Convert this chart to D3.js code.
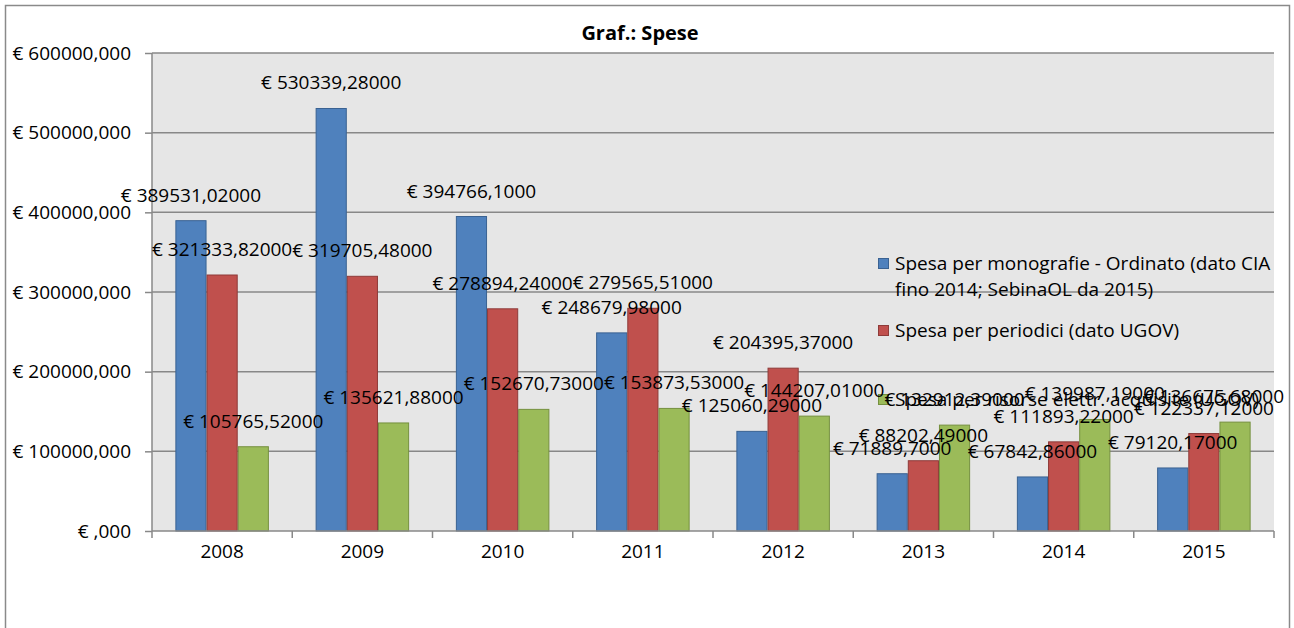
<!DOCTYPE html>
<html>
<head>
<meta charset="utf-8">
<script src="https://cdn.jsdelivr.net/npm/d3@7"></script>
<style>
  body { margin: 0; background: #fff; }
  svg text { font-family: "Open Sans", "Liberation Sans", sans-serif; fill: #000; }
</style>
</head>
<body>
<div id="chart"></div>
<script>
var years = ['2008', '2009', '2010', '2011', '2012', '2013', '2014', '2015'];
var seriesNames = [
  'Spesa per monografie - Ordinato (dato CIA fino 2014; SebinaOL da 2015)',
  'Spesa per periodici (dato UGOV)',
  'Spesa per risorse elettr. acquisite (UGOV)'
];
var monografie = [389531.02, 530339.28, 394766.10, 248679.98, 125060.29, 71889.70, 67842.86, 79120.17];
var periodici = [321333.82, 319705.48, 278894.24, 279565.51, 204395.37, 88202.49, 111893.22, 122337.12];
var risorse = [105765.52, 135621.88, 152670.73, 153873.53, 144207.01, 132912.39, 139987.19, 136675.68];

var monografieLabels = ['€ 389531,02000', '€ 530339,28000', '€ 394766,1000', '€ 248679,98000',
  '€ 125060,29000', '€ 71889,7000', '€ 67842,86000', '€ 79120,17000'];
var periodiciLabels = ['€ 321333,82000', '€ 319705,48000', '€ 278894,24000', '€ 279565,51000',
  '€ 204395,37000', '€ 88202,49000', '€ 111893,22000', '€ 122337,12000'];
var risorseLabels = ['€ 105765,52000', '€ 135621,88000', '€ 152670,73000', '€ 153873,53000',
  '€ 144207,01000', '€ 132912,39000', '€ 139987,19000', '€ 136675,68000'];

var yTicks = [0, 100000, 200000, 300000, 400000, 500000, 600000];
var yTickLabels = ['€ ,000', '€ 100000,000', '€ 200000,000', '€ 300000,000',
  '€ 400000,000', '€ 500000,000', '€ 600000,000'];

var fills = ['#4F81BD', '#C0504D', '#9BBB59'];
var strokes = ['#3A6292', '#8E3B39', '#75903F'];

var W = 1294, H = 628;
var plot = {left: 152, top: 53, right: 1274, bottom: 531};
var fontSize = 19;

var svg = d3.select('#chart').append('svg')
  .attr('width', W).attr('height', H);

// chart frame
svg.append('rect')
  .attr('x', 5.5).attr('y', 5.5)
  .attr('width', 1284).attr('height', 640)
  .attr('fill', '#fff').attr('stroke', '#8a8a8a').attr('stroke-width', 1.5);

svg.append('text')
  .attr('x', 640).attr('y', 40)
  .attr('text-anchor', 'middle')
  .attr('font-weight', 'bold')
  .attr('font-size', 20)
  .text('Graf.: Spese');

var x = d3.scaleBand().domain(years).range([plot.left, plot.right]).paddingInner(0).paddingOuter(0);
var xs = d3.scaleBand().domain([0, 1, 2]).range([0, x.bandwidth()]).paddingInner(0).paddingOuter(0.75);
var y = d3.scaleLinear().domain([0, 600000]).range([plot.bottom, plot.top]);

svg.append('rect')
  .attr('x', plot.left).attr('y', plot.top)
  .attr('width', plot.right - plot.left).attr('height', plot.bottom - plot.top)
  .attr('fill', '#e6e6e6');

// gridlines
svg.append('g').selectAll('line')
  .data(yTicks.slice(1))
  .enter().append('line')
  .attr('x1', plot.left).attr('x2', plot.right)
  .attr('y1', function(d){ return y(d); }).attr('y2', function(d){ return y(d); })
  .attr('stroke', '#888').attr('stroke-width', 1.5);

// y axis
var yAxis = d3.axisLeft(y).tickValues(yTicks)
  .tickFormat(function(d, i){ return yTickLabels[i]; })
  .tickSize(7).tickPadding(14);
var gy = svg.append('g').attr('transform', 'translate(' + plot.left + ',0)').call(yAxis);
gy.select('.domain').attr('stroke', '#888').attr('stroke-width', 1.5).attr('d', 'M0,' + plot.top + 'V' + plot.bottom);
gy.selectAll('.tick line').attr('stroke', '#888').attr('stroke-width', 1.5);
gy.selectAll('.tick text').attr('font-size', fontSize).attr('font-family', null);

// bars
var series = [monografie, periodici, risorse];
var labels = [monografieLabels, periodiciLabels, risorseLabels];

series.forEach(function(values, s){
  svg.append('g').selectAll('rect')
    .data(values)
    .enter().append('rect')
    .attr('x', function(d, i){ return x(years[i]) + xs(s) + 0.5; })
    .attr('y', function(d){ return y(d); })
    .attr('width', xs.bandwidth() - 1)
    .attr('height', function(d){ return plot.bottom - y(d); })
    .attr('fill', fills[s])
    .attr('stroke', strokes[s]).attr('stroke-width', 1);
});

// x axis
var xAxis = d3.axisBottom(x).tickSize(0).tickPadding(14);
var gx = svg.append('g').attr('transform', 'translate(0,' + plot.bottom + ')').call(xAxis);
gx.select('.domain').remove();
gx.selectAll('.tick text').attr('font-size', fontSize).attr('font-family', null);
gx.append('line').attr('x1', plot.left).attr('x2', plot.right)
  .attr('stroke', '#888').attr('stroke-width', 1.5);
gx.selectAll('.sep')
  .data(years.concat(['end']))
  .enter().append('line')
  .attr('x1', function(d, i){ return plot.left + i * x.step(); })
  .attr('x2', function(d, i){ return plot.left + i * x.step(); })
  .attr('y1', 0).attr('y2', 7)
  .attr('stroke', '#888').attr('stroke-width', 1.5);

// legend
var legend = svg.append('g').attr('transform', 'translate(878,0)');
var legendRows = [
  {lines: ['Spesa per monografie - Ordinato (dato CIA', 'fino 2014; SebinaOL da 2015)'], y: 264},
  {lines: ['Spesa per periodici (dato UGOV)'], y: 331},
  {lines: ['Spesa per risorse elettr. acquisite (UGOV)'], y: 400}
];
legendRows.forEach(function(r, s){
  legend.append('rect')
    .attr('x', 0.5).attr('y', r.y - 5.5)
    .attr('width', 10).attr('height', 10)
    .attr('fill', fills[s]).attr('stroke', strokes[s]);
  r.lines.forEach(function(t, k){
    legend.append('text')
      .attr('x', 17).attr('y', r.y + k * 26 + 6)
      .attr('font-size', fontSize)
      .text(t);
  });
});

// data labels (drawn last, on top)
series.forEach(function(values, s){
  svg.append('g').selectAll('text')
    .data(values)
    .enter().append('text')
    .attr('font-size', fontSize)
    .attr('text-anchor', 'middle')
    .attr('y', function(d){ return y(d) - 19; })
    .text(function(d, i){ return labels[s][i]; })
    .attr('x', function(d, i){
      var cx = x(years[i]) + xs(s) + xs.bandwidth() / 2;
      var w = this.getComputedTextLength();
      if (cx + w / 2 > 1284) cx = 1284 - w / 2;
      return cx;
    });
});
</script>
</body>
</html>
